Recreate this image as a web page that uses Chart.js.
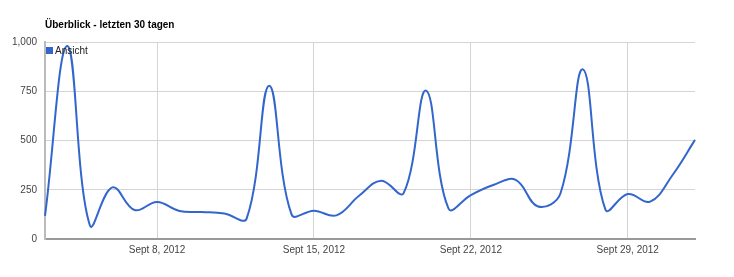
<!DOCTYPE html>
<html>
<head>
<meta charset="utf-8">
<script src="https://cdn.jsdelivr.net/npm/chart.js@4"></script>
<style>
  html, body { margin: 0; padding: 0; background: #fff; }
  #wrap { width: 734px; height: 277px; position: relative; }
</style>
</head>
<body>
<div id="wrap"><canvas id="chart" width="734" height="277"></canvas></div>
<script>
// Daten: Ansichten pro Tag (3. Sept - 2. Okt 2012)
const days = [
  "Sept 3, 2012", "Sept 4, 2012", "Sept 5, 2012", "Sept 6, 2012", "Sept 7, 2012",
  "Sept 8, 2012", "Sept 9, 2012", "Sept 10, 2012", "Sept 11, 2012", "Sept 12, 2012",
  "Sept 13, 2012", "Sept 14, 2012", "Sept 15, 2012", "Sept 16, 2012", "Sept 17, 2012",
  "Sept 18, 2012", "Sept 19, 2012", "Sept 20, 2012", "Sept 21, 2012", "Sept 22, 2012",
  "Sept 23, 2012", "Sept 24, 2012", "Sept 25, 2012", "Sept 26, 2012", "Sept 27, 2012",
  "Sept 28, 2012", "Sept 29, 2012", "Sept 30, 2012", "Oct 1, 2012", "Oct 2, 2012"
];
const views = [
  117, 980, 70, 262, 147,
  188, 142, 137, 130, 105,
  778, 125, 144, 120, 218,
  296, 233, 753, 155, 223,
  274, 300, 165, 232, 861,
  150, 228, 190, 325, 503
];
const shownLabels = ["Sept 8, 2012", "Sept 15, 2012", "Sept 22, 2012", "Sept 29, 2012"];
const yTicks = [0, 250, 500, 750, 1000];

const FONT = "'Liberation Sans', Arial, sans-serif";
const BLUE = "#3366cc";

// Titel + Legende im Plotbereich
const extras = {
  id: "extras",
  afterDraw(chart) {
    const ctx = chart.ctx;
    const area = chart.chartArea;
    ctx.save();
    ctx.fillStyle = "#000";
    ctx.font = "bold 10px " + FONT;
    ctx.textBaseline = "alphabetic";
    ctx.fillText("Überblick - letzten 30 tagen", area.left, 28);
    ctx.fillStyle = BLUE;
    ctx.fillRect(area.left + 1, area.top + 5, 7, 7);
    ctx.fillStyle = "#222";
    ctx.font = "10px " + FONT;
    ctx.fillText("Ansicht", area.left + 10, area.top + 12);
    ctx.restore();
  }
};

new Chart(document.getElementById("chart").getContext("2d"), {
  type: "line",
  data: {
    labels: days,
    datasets: [{
      label: "Ansicht",
      data: views,
      borderColor: BLUE,
      borderWidth: 2,
      pointRadius: 0,
      tension: 0.4,
      fill: false
    }]
  },
  options: {
    responsive: false,
    animation: false,
    layout: { padding: { left: 0, right: 39, top: 42, bottom: 0 } },
    plugins: {
      legend: { display: false },
      tooltip: { enabled: false }
    },
    scales: {
      x: {
        offset: false,
        afterFit(scale) { scale.height = 38; },
        grid: {
          drawTicks: false,
          color: (c) => (c.tick && shownLabels.includes(days[c.tick.value]) ? "#d4d4d4" : "rgba(0,0,0,0)"),
          lineWidth: 1
        },
        border: { color: "#999", width: 2 },
        ticks: {
          autoSkip: false,
          maxRotation: 0,
          padding: 5,
          color: "#444",
          font: { family: FONT, size: 10 },
          callback(v) { return shownLabels.includes(days[v]) ? days[v] : ""; }
        }
      },
      y: {
        min: 0,
        max: 1000,
        afterFit(scale) { scale.width = 45; },
        afterBuildTicks(scale) { scale.ticks = yTicks.map(v => ({ value: v })); },
        grid: { drawTicks: false, color: "#d4d4d4", lineWidth: 1 },
        border: { color: "#bbb", width: 2 },
        ticks: {
          padding: 8,
          color: "#444",
          font: { family: FONT, size: 10 },
          callback(v) { return v.toLocaleString("en-US"); }
        }
      }
    }
  },
  plugins: [extras]
});
</script>
</body>
</html>
